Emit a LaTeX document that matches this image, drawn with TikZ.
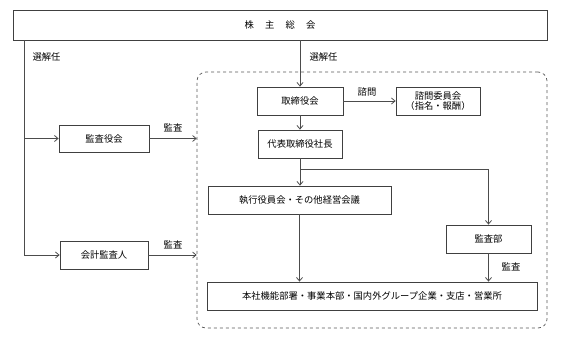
\documentclass[tikz,border=0pt]{standalone}
\usepackage{fontspec}
\setmainfont{Noto Sans CJK JP}
\usetikzlibrary{arrows.meta}

\begin{document}
\begin{tikzpicture}[x=1pt,y=-1pt,
	font=\fontsize{9.3}{10.5}\selectfont,
	box/.style={draw=black!75,line width=0.8pt,fill=white,inner sep=1pt,minimum height=28pt,align=center},
	line/.style={draw=black!70,line width=0.8pt},
	arr/.style={line,-{Straight Barb[length=3.5pt,width=6pt]}},
	lbl/.style={inner sep=0pt}]
	\useasboundingbox (0,0) rectangle (567,342);
	\node[draw=black!65,dashed,line width=0.7pt,rounded corners=9pt,minimum width=350pt,minimum height=256pt] (frame) at (372,200) {};
	\node[box,minimum width=534pt,minimum height=30pt] (soukai) at (280,25) {株\hspace{1.2em}主\hspace{1.2em}総\hspace{1.2em}会};
	\node[box,minimum width=86pt] (torishimari) at (300,101) {取締役会};
	\node[box,minimum width=84pt,font=\fontsize{9.3}{9.8}\selectfont] (shimon) at (438,101) {諮問委員会\\（指名・報酬）};
	\node[box,minimum width=84pt] (daihyo) at (300,144) {代表取締役社長};
	\node[box,minimum width=90pt,minimum height=27pt] (kansayaku) at (104,138.5) {監査役会};
	\node[box,minimum width=183pt] (shikko) at (299.5,200) {執行役員会・その他経営会議};
	\node[box,minimum width=85pt] (kansabu) at (488.5,239) {監査部};
	\node[box,minimum width=88pt] (kaikei) at (104,255) {会計監査人};
	\node[box,minimum width=330pt] (honsha) at (372,296) {本社機能部署・事業本部・国内外グループ企業・支店・営業所};
	\coordinate (sel) at (24,0);
	\coordinate (br) at (300,169);
	\draw[arr] (soukai.south -| sel) |- (kaikei.west);
	\draw[arr] (kansayaku.west -| sel) -- (kansayaku.west);
	\draw[arr] (soukai.south -| torishimari) -- (torishimari.north);
	\draw[arr] (torishimari.east) -- (shimon.west);
	\draw[arr] (torishimari.south) -- (daihyo.north);
	\draw[arr] (daihyo.south) -- (daihyo.south |- shikko.north);
	\draw[arr] (br) -| (kansabu.north);
	\draw[arr] (shikko.south) -- (shikko.south |- honsha.north);
	\draw[arr] (kansabu.south) -- (kansabu.south |- honsha.north);
	\draw[arr] (kansayaku.east) -- (kansayaku.east -| frame.west);
	\draw[arr] (kaikei.east) -- (kaikei.east -| frame.west);
	\node[lbl] (sel1) at (46.5,57) {選解任};
	\node[lbl] (sel2) at (323.5,57) {選解任};
	\node[lbl] (shimon1) at (367,92) {諮問};
	\node[lbl] (kansa1) at (173,128) {監査};
	\node[lbl] (kansa2) at (173,245) {監査};
	\node[lbl] (kansa3) at (511,267) {監査};
\end{tikzpicture}
\end{document}
